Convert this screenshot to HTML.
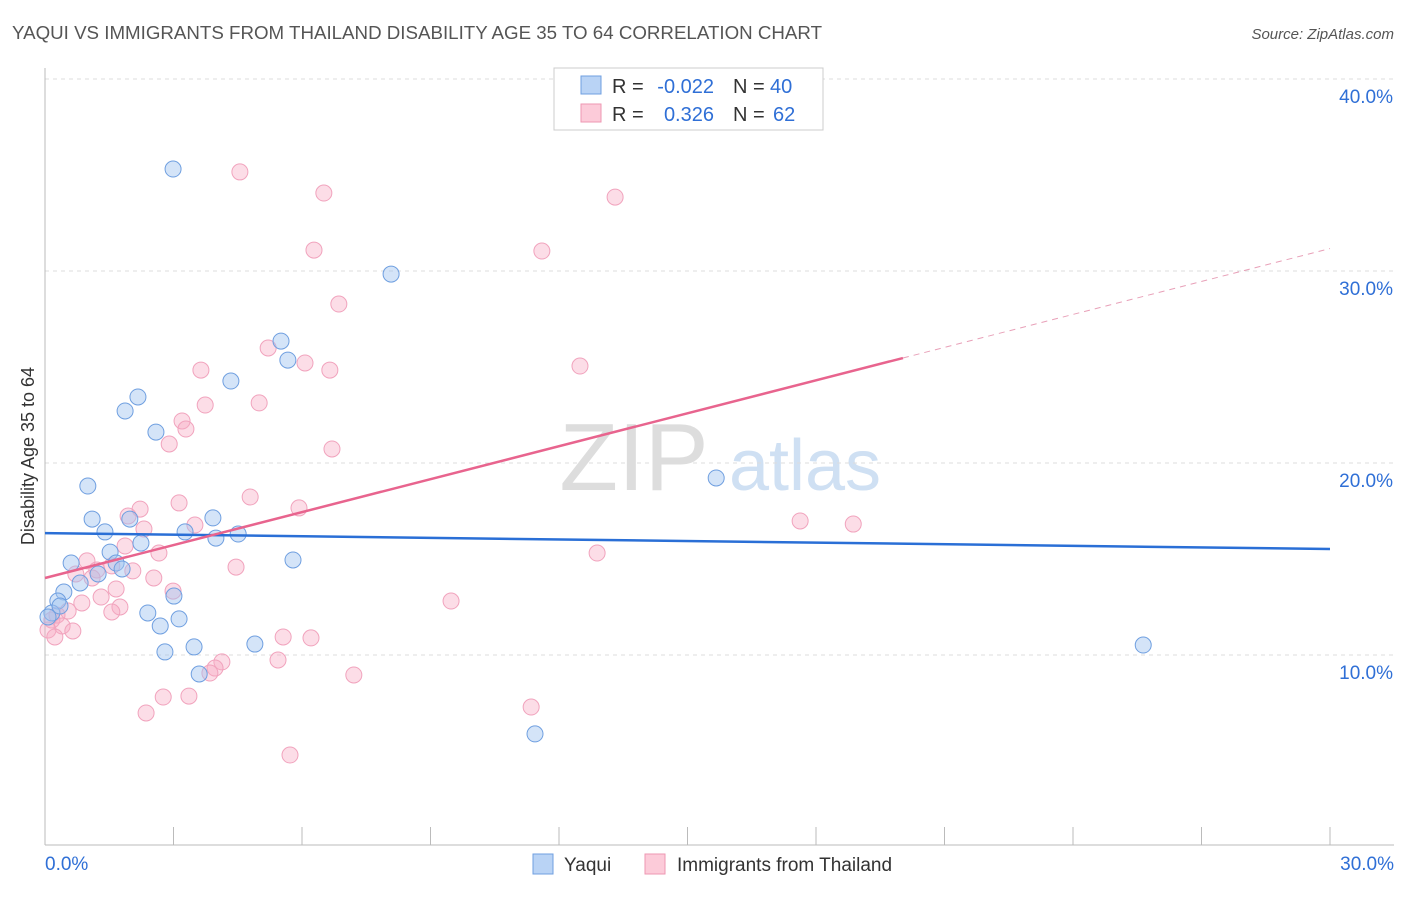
<!DOCTYPE html>
<html><head><meta charset="utf-8"><style>
body{margin:0;background:#fff;font-family:"Liberation Sans",sans-serif;}
svg text{font-family:"Liberation Sans",sans-serif;}
</style></head><body>
<svg id="chart" width="1406" height="892" xmlns="http://www.w3.org/2000/svg">
<text x="12" y="39" font-size="18" fill="#555" textLength="810" lengthAdjust="spacingAndGlyphs">YAQUI VS IMMIGRANTS FROM THAILAND DISABILITY AGE 35 TO 64 CORRELATION CHART</text>
<text x="1394" y="39" font-size="15" fill="#555" text-anchor="end" font-style="italic">Source: ZipAtlas.com</text>
<text transform="translate(34,456) rotate(-90)" font-size="18" fill="#333" text-anchor="middle">Disability Age 35 to 64</text>
<g>
<text x="634" y="490" font-size="96" fill="#ddd" text-anchor="middle" font-family="Liberation Serif,serif">ZIP</text>
<text x="805" y="490" font-size="72" fill="#cfe0f3" text-anchor="middle">atlas</text>
</g>
<g id="grid"></g>
<g id="axes"></g>
<g id="points"></g>
<g id="trends"></g>
<g>
<rect x="554" y="68" width="269" height="62" fill="#fff" stroke="#ccc"/>
<rect x="581" y="76" width="20" height="18" fill="#b9d3f5" stroke="#6f9fe0"/>
<rect x="581" y="104" width="20" height="18" fill="#fccbd9" stroke="#ee97b2"/>
<text x="612" y="93" font-size="20" fill="#333">R =</text>
<text x="714" y="93" font-size="20" fill="#2f6fd6" text-anchor="end">-0.022</text>
<text x="733" y="93" font-size="20" fill="#333">N =</text>
<text x="770" y="93" font-size="20" fill="#2f6fd6">40</text>
<text x="612" y="121" font-size="20" fill="#333">R =</text>
<text x="714" y="121" font-size="20" fill="#2f6fd6" text-anchor="end">0.326</text>
<text x="733" y="121" font-size="20" fill="#333">N =</text>
<text x="773" y="121" font-size="20" fill="#2f6fd6">62</text>
</g>
<g>
<rect x="533" y="854" width="20" height="20" fill="#b9d3f5" stroke="#6f9fe0"/>
<text x="564" y="871" font-size="19" fill="#333">Yaqui</text>
<rect x="645" y="854" width="20" height="20" fill="#fccbd9" stroke="#ee97b2"/>
<text x="677" y="871" font-size="19" fill="#333">Immigrants from Thailand</text>
</g>
</svg>
<script>
const yTicks=[10,20,30,40];
const yTickLabels=["10.0%","20.0%","30.0%","40.0%"];
const xTicks=[0,3,6,9,12,15,18,21,24,27,30];
const xLabels=["0.0%","30.0%"];
const yaquiX=[2.99,8.08,5.51,5.67,4.34,2.17,1.87,2.59,1.00,15.67,1.10,1.98,3.92,1.40,3.27,4.51,3.99,2.24,1.52,0.61,5.79,1.66,1.80,1.24,0.82,0.44,3.01,0.30,0.16,2.40,3.13,2.69,3.48,4.90,2.80,3.60,25.64,11.44,0.07,0.35];
const yaquiY=[35.31,29.84,26.35,25.36,24.27,23.44,22.71,21.61,18.80,19.22,17.08,17.08,17.14,16.41,16.41,16.30,16.09,15.83,15.36,14.79,14.95,14.79,14.48,14.22,13.75,13.28,13.07,12.81,12.19,12.19,11.88,11.51,10.42,10.57,10.16,9.01,10.52,5.89,11.98,12.55];
const thaiX=[4.55,6.51,13.31,6.28,11.60,6.86,5.21,6.07,6.65,3.64,12.49,5.00,3.74,3.20,3.29,2.90,6.70,4.79,3.13,2.22,1.94,5.93,3.50,2.31,17.63,18.87,1.87,2.66,12.89,0.98,1.56,4.46,1.21,2.05,0.72,2.54,1.10,2.99,1.66,1.31,0.86,1.75,1.56,9.48,0.54,0.28,0.16,0.40,0.65,0.07,0.23,5.56,6.21,4.13,5.44,3.97,3.85,7.21,2.76,3.36,2.36,11.35,5.72];
const thaiY=[35.16,34.06,33.85,31.09,31.04,28.28,25.99,25.21,24.84,24.84,25.05,23.13,23.02,22.19,21.77,20.99,20.73,18.23,17.92,17.60,17.24,17.66,16.77,16.56,16.98,16.82,15.68,15.31,15.31,14.90,14.64,14.58,14.43,14.38,14.22,14.01,14.01,13.33,13.44,13.02,12.71,12.50,12.24,12.81,12.29,12.08,11.82,11.51,11.25,11.30,10.94,10.94,10.89,9.64,9.74,9.32,9.06,8.96,7.81,7.86,6.98,7.29,4.79];
const yaquiTrend=[16.35,15.52];
const thaiTrend=[14.01,31.17];
const thaiSolidEnd=20.03;
const NS="http://www.w3.org/2000/svg";
const sx=v=>45+v*42.833;
const sy=v=>655-(v-10)*19.2;
function mk(tag,attrs,parent){const e=document.createElementNS(NS,tag);for(const k in attrs)e.setAttribute(k,attrs[k]);document.getElementById(parent).appendChild(e);return e;}
yTicks.forEach((t,i)=>{
 const l=mk('line',{x1:45,x2:1394,y1:sy(t),y2:sy(t),stroke:'#ddd','stroke-dasharray':'4,4'},'grid');
 
 
 const tx=mk('text',{x:1393,y:sy(t)+24,'font-size':19,fill:'#2f6fd6','text-anchor':'end'},'grid');
 tx.textContent=yTickLabels[i];
 
 
});
const ax=mk('line',{x1:45,x2:45,y1:68,y2:845,stroke:'#bbb'},'axes');


const bx=mk('line',{x1:45,x2:1394,y1:845,y2:845,stroke:'#bbb'},'axes');


xTicks.forEach(t=>{
 const l=mk('line',{x1:sx(t),x2:sx(t),y1:827,y2:845,stroke:'#bbb'},'axes');
 
 
});
const xl0=mk('text',{x:45,y:870,'font-size':19,fill:'#2f6fd6'},'axes');
xl0.textContent=xLabels[0];


const xl1=mk('text',{x:1394,y:870,'font-size':19,fill:'#2f6fd6','text-anchor':'end'},'axes');
xl1.textContent=xLabels[1];


thaiX.forEach((x,i)=>{
 const c=mk('circle',{cx:sx(x),cy:sy(thaiY[i]),r:8,fill:'rgba(248,170,196,0.4)',stroke:'#f1a3bd','stroke-width':1},'points');
 
 
});
yaquiX.forEach((x,i)=>{
 const c=mk('circle',{cx:sx(x),cy:sy(yaquiY[i]),r:8,fill:'rgba(160,196,240,0.45)',stroke:'#6f9fe0','stroke-width':1},'points');
 
 
});
const yt=mk('line',{x1:sx(0),y1:sy(yaquiTrend[0]),x2:sx(30),y2:sy(yaquiTrend[1]),stroke:'#2a6fd6','stroke-width':2.5},'trends');


const tm=thaiTrend[0]+(thaiTrend[1]-thaiTrend[0])*thaiSolidEnd/30;
const tt=mk('line',{x1:sx(0),y1:sy(thaiTrend[0]),x2:sx(thaiSolidEnd),y2:sy(tm),stroke:'#e8648e','stroke-width':2.5},'trends');


const td=mk('line',{x1:sx(thaiSolidEnd),y1:sy(tm),x2:sx(30),y2:sy(thaiTrend[1]),stroke:'#e8a0b8','stroke-width':1,'stroke-dasharray':'6,5'},'trends');


</script>
</body></html>
